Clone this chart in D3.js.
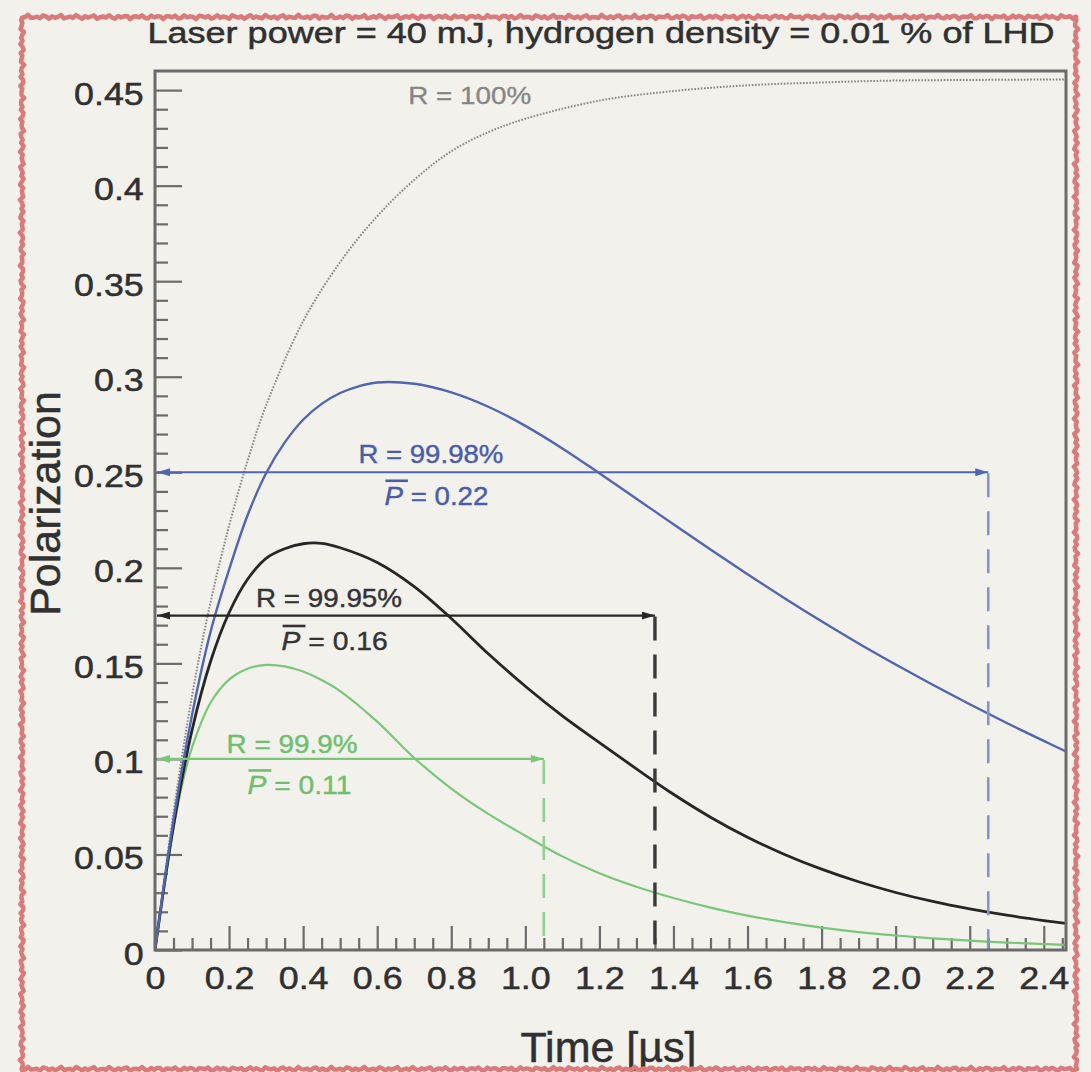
<!DOCTYPE html>
<html>
<head>
<meta charset="utf-8">
<script src="https://cdn.jsdelivr.net/npm/d3@7"></script>
<style>
  html, body { margin: 0; padding: 0; background: #f3f1ec; }
  svg { display: block; }
  text { font-family: "Liberation Sans", Arial, Helvetica, sans-serif; }
</style>
</head>
<body>
<svg id="chart" width="1091" height="1072"></svg>
<script>
// ---- data: polarization vs time [µs] for several reflectivities ----
const tR100  = [0, 0.05, 0.1, 0.15, 0.2, 0.25, 0.3, 0.4, 0.5, 0.6, 0.7, 0.8, 0.9, 1.0, 1.2, 1.4, 1.6, 1.8, 2.0, 2.2, 2.46];
const pR100  = [0, 0.072, 0.133, 0.182, 0.222, 0.256, 0.285, 0.329, 0.36, 0.384, 0.403, 0.418, 0.428, 0.435, 0.4445, 0.4495, 0.4525, 0.454, 0.455, 0.4553, 0.4556];

const tR9998 = [0, 0.05, 0.1, 0.15, 0.2, 0.25, 0.3, 0.35, 0.4, 0.45, 0.5, 0.55, 0.6, 0.7, 0.8, 0.9, 1.0, 1.1, 1.2, 1.3, 1.4, 1.5, 1.6, 1.7, 1.8, 1.9, 2.0, 2.1, 2.2, 2.3, 2.4, 2.46];
const pR9998 = [0, 0.068, 0.123, 0.1665, 0.199, 0.2275, 0.2495, 0.2655, 0.2775, 0.2858, 0.2915, 0.295, 0.297, 0.2963, 0.2918, 0.2843, 0.2743, 0.2625, 0.2495, 0.2362, 0.2228, 0.2096, 0.1967, 0.1841, 0.172, 0.1604, 0.1494, 0.1388, 0.1286, 0.1188, 0.1094, 0.1039];

const tR9995 = [0, 0.05, 0.1, 0.15, 0.2, 0.25, 0.3, 0.35, 0.4, 0.45, 0.5, 0.6, 0.7, 0.8, 0.9, 1.0, 1.1, 1.2, 1.3, 1.4, 1.5, 1.6, 1.7, 1.8, 1.9, 2.0, 2.1, 2.2, 2.3, 2.4, 2.46];
const pR9995 = [0, 0.065, 0.115, 0.151, 0.1765, 0.194, 0.205, 0.210, 0.2126, 0.2128, 0.2105, 0.2028, 0.1902, 0.1735, 0.155, 0.138, 0.1225, 0.1085, 0.0948, 0.0815, 0.0695, 0.059, 0.050, 0.0423, 0.0357, 0.0301, 0.0254, 0.0215, 0.0182, 0.0154, 0.0139];

const tR999  = [0, 0.025, 0.05, 0.075, 0.1, 0.15, 0.2, 0.25, 0.3, 0.35, 0.4, 0.45, 0.5, 0.6, 0.7, 0.8, 0.9, 1.0, 1.1, 1.2, 1.3, 1.4, 1.5, 1.6, 1.7, 1.8, 1.9, 2.0, 2.1, 2.2, 2.3, 2.46];
const pR999  = [0, 0.033, 0.064, 0.088, 0.106, 0.1294, 0.1415, 0.1472, 0.1492, 0.1484, 0.1457, 0.1413, 0.1355, 0.1195, 0.1005, 0.0845, 0.0712, 0.0598, 0.049, 0.0402, 0.0331, 0.0272, 0.0222, 0.018, 0.0146, 0.0117, 0.0094, 0.0076, 0.0061, 0.0049, 0.0039, 0.0027];

// storage-time arrows: level (polarization) and end time for each cavity
const arrowLevels = [0.25, 0.175, 0.1];
const arrowEnds   = [2.25, 1.35, 1.05];
const rLabels     = ["R = 99.98%", "R = 99.95%", "R = 99.9%"];
const pbarValues  = ["0.22", "0.16", "0.11"];

// axis ticks
const xMajor = [0, 0.2, 0.4, 0.6, 0.8, 1.0, 1.2, 1.4, 1.6, 1.8, 2.0, 2.2, 2.4];
const xMinor = d3.range(0, 50).map(i => +(i * 0.05).toFixed(2)).filter(v => Math.round(v * 100) % 20 !== 0);
const yMajor = [0, 0.05, 0.1, 0.15, 0.2, 0.25, 0.3, 0.35, 0.4, 0.45];
const yMinor = d3.range(0, 46).map(i => +(i * 0.01).toFixed(2)).filter(v => Math.round(v * 100) % 5 !== 0);

const titleText = "Laser power = 40 mJ, hydrogen density = 0.01 % of LHD";
const xTitle = "Time [\u00b5s]";
const yTitle = "Polarization";

// ---- styling ----
const colors = {
  blue: "#5166b0", blueText: "#4a5da8", blueDash: "#8595cc",
  black: "#262626", blackText: "#333333", blackDash: "#3a3a3a",
  green: "#79c779", greenText: "#6fbf6f", greenDash: "#8fd28f",
  gray: "#858585", axis: "#6b6b6b", text: "#303030"
};

const svg = d3.select("#chart");
const W = 1091, H = 1072;

svg.append("rect").attr("width", W).attr("height", H).attr("fill", "#f3f1ec");

const x = d3.scaleLinear().domain([0, 2.46]).range([155, 1066]);
const y = d3.scaleLinear().domain([0, 0.46]).range([950, 71]);

const defs = svg.append("defs");
defs.append("clipPath").attr("id", "plotClip")
  .append("rect")
  .attr("x", x(0)).attr("y", y(0.46))
  .attr("width", x(2.46) - x(0)).attr("height", y(0) - y(0.46));

// arrowhead markers
[["blue", colors.blue], ["black", colors.black], ["green", colors.green]].forEach(([k, c]) => {
  defs.append("marker")
    .attr("id", "arrow-" + k)
    .attr("viewBox", "0 0 13 8")
    .attr("refX", 13).attr("refY", 4)
    .attr("markerWidth", 13).attr("markerHeight", 8)
    .attr("markerUnits", "userSpaceOnUse")
    .attr("orient", "auto-start-reverse")
    .append("path").attr("d", "M0,0 L13,4 L0,8 Z").attr("fill", c);
});

// ---- axes (ticks point inward) ----
function fmtX(d) { return d === 0 ? "0" : d.toFixed(1); }
function fmtY(d) { return d === 0 ? "0" : String(+d.toFixed(2)); }

const gxMinor = svg.append("g").attr("transform", `translate(0,${y(0)})`)
  .call(d3.axisBottom(x).tickValues(xMinor).tickSize(-12).tickFormat(""));
const gx = svg.append("g").attr("transform", `translate(0,${y(0)})`)
  .call(d3.axisBottom(x).tickValues(xMajor).tickSize(-24).tickPadding(16).tickFormat(fmtX));

const gyMinor = svg.append("g").attr("transform", `translate(${x(0)},0)`)
  .call(d3.axisLeft(y).tickValues(yMinor).tickSize(-13).tickFormat(""));
const gy = svg.append("g").attr("transform", `translate(${x(0)},0)`)
  .call(d3.axisLeft(y).tickValues(yMajor).tickSize(-27).tickPadding(10).tickFormat(fmtY));

[gxMinor, gx, gyMinor, gy].forEach(g => {
  g.selectAll(".domain").remove();
  g.selectAll(".tick line").attr("stroke", colors.axis).attr("stroke-width", 2.2);
  g.selectAll(".tick text")
    .attr("fill", colors.text)
    .attr("stroke", colors.text).attr("stroke-width", 0.5)
    .attr("font-size", 32)
    .attr("font-family", "Liberation Sans, Arial, sans-serif")
    .attr("transform", "scale(1.12,1)");
});
gy.selectAll(".tick text").attr("dy", "0.44em");

// ---- curves ----
const line = d3.line()
  .x(d => x(d[0])).y(d => y(d[1]))
  .curve(d3.curveCatmullRom.alpha(0.5));

const curves = svg.append("g").attr("clip-path", "url(#plotClip)");

curves.append("path")
  .datum(d3.zip(tR100, pR100))
  .attr("d", line).attr("fill", "none")
  .attr("stroke", colors.gray).attr("stroke-width", 2)
  .attr("stroke-dasharray", "1.6,1.6");

curves.append("path")
  .datum(d3.zip(tR999, pR999))
  .attr("d", line).attr("fill", "none")
  .attr("stroke", colors.green).attr("stroke-width", 2.2);

curves.append("path")
  .datum(d3.zip(tR9995, pR9995))
  .attr("d", line).attr("fill", "none")
  .attr("stroke", colors.black).attr("stroke-width", 2.8);

curves.append("path")
  .datum(d3.zip(tR9998, pR9998))
  .attr("d", line).attr("fill", "none")
  .attr("stroke", colors.blue).attr("stroke-width", 2.4);

// ---- storage-time arrows with dashed drop lines ----
const arrowStyle = [
  { key: "blue",  line: colors.blue,  dash: colors.blueDash,  text: colors.blueText,  lw: 2,   dw: 2.6 },
  { key: "black", line: colors.black, dash: colors.blackDash, text: colors.blackText, lw: 2.4, dw: 3.4 },
  { key: "green", line: colors.green, dash: colors.greenDash, text: colors.greenText, lw: 2.4, dw: 2.6 }
];

const ann = svg.append("g");
arrowLevels.forEach((lvl, i) => {
  const s = arrowStyle[i];
  ann.append("line")
    .attr("x1", x(arrowEnds[i])).attr("x2", x(arrowEnds[i]))
    .attr("y1", y(lvl) + 1).attr("y2", y(0))
    .attr("stroke", s.dash).attr("stroke-width", s.dw)
    .attr("stroke-dasharray", "24,14");
  ann.append("line")
    .attr("x1", x(0) + 2).attr("x2", x(arrowEnds[i]))
    .attr("y1", y(lvl)).attr("y2", y(lvl))
    .attr("stroke", s.line).attr("stroke-width", s.lw)
    .attr("marker-start", `url(#arrow-${s.key})`)
    .attr("marker-end", `url(#arrow-${s.key})`);
});

// ---- annotation text ----
// label anchors (time, polarization) and rendered widths
const rLabelPos   = [[0.745, 0.255], [0.47, 0.1795], [0.37, 0.1033]];
const rLabelW     = [145, 146, 131];
const pLabelPos   = [[0.76, 0.233], [0.485, 0.157], [0.39, 0.0814]];
const pLabelW     = [104, 106, 104];

arrowLevels.forEach((lvl, i) => {
  const s = arrowStyle[i];
  ann.append("text")
    .attr("x", x(rLabelPos[i][0])).attr("y", y(rLabelPos[i][1]))
    .attr("text-anchor", "middle")
    .attr("font-size", 25)
    .attr("fill", s.text).attr("stroke", s.text).attr("stroke-width", 0.4)
    .attr("textLength", rLabelW[i]).attr("lengthAdjust", "spacingAndGlyphs")
    .text(rLabels[i]);

  const pt = ann.append("text")
    .attr("x", x(pLabelPos[i][0])).attr("y", y(pLabelPos[i][1]))
    .attr("text-anchor", "middle")
    .attr("font-size", 25)
    .attr("fill", s.text).attr("stroke", s.text).attr("stroke-width", 0.4)
    .attr("textLength", pLabelW[i]).attr("lengthAdjust", "spacingAndGlyphs");
  pt.append("tspan").attr("font-style", "italic").text("P");
  pt.append("tspan").text(" = " + pbarValues[i]);

  // bar over P (mean polarization)
  const ext = pt.node().getExtentOfChar(0);
  const by = y(pLabelPos[i][1]) - 24;
  ann.append("line")
    .attr("x1", ext.x + 1).attr("x2", ext.x + ext.width + 5)
    .attr("y1", by).attr("y2", by)
    .attr("stroke", s.text).attr("stroke-width", 2.6);
});

ann.append("text")
  .attr("x", x(0.85)).attr("y", y(0.4425))
  .attr("text-anchor", "middle")
  .attr("font-size", 24)
  .attr("fill", colors.gray).attr("stroke", colors.gray).attr("stroke-width", 0.3)
  .attr("textLength", 123).attr("lengthAdjust", "spacingAndGlyphs")
  .text("R = 100%");

// ---- frame ----
svg.append("rect")
  .attr("x", x(0)).attr("y", y(0.46))
  .attr("width", x(2.46) - x(0)).attr("height", y(0) - y(0.46))
  .attr("fill", "none").attr("stroke", colors.axis).attr("stroke-width", 3);

// ---- titles ----
svg.append("text")
  .attr("x", 601).attr("y", 43)
  .attr("text-anchor", "middle")
  .attr("font-size", 30).attr("fill", colors.text)
  .attr("stroke", colors.text).attr("stroke-width", 0.5)
  .attr("textLength", 907).attr("lengthAdjust", "spacingAndGlyphs")
  .text(titleText);

svg.append("text")
  .attr("x", (x(0) + x(2.46)) / 2 - 2).attr("y", 1062)
  .attr("text-anchor", "middle")
  .attr("font-size", 43).attr("fill", colors.text)
  .attr("stroke", colors.text).attr("stroke-width", 0.5)
  .text(xTitle);

svg.append("text")
  .attr("transform", `translate(60,${(y(0) + y(0.46)) / 2 - 7}) rotate(-90)`)
  .attr("text-anchor", "middle")
  .attr("font-size", 43).attr("fill", colors.text)
  .attr("stroke", colors.text).attr("stroke-width", 0.5)
  .text(yTitle);

// ---- hand-drawn style red picture border ----
function roughEdge(x0, y0, x1, y1, phase) {
  const len = Math.hypot(x1 - x0, y1 - y0);
  const n = Math.round(len / 3);
  const nx = -(y1 - y0) / len, ny = (x1 - x0) / len;
  const pts = [];
  for (let i = 0; i <= n; i++) {
    const t = i / n;
    const o = 1.4 * Math.sin(i * 2.3 + phase) + 0.8 * Math.sin(i * 5.1 + phase * 2);
    pts.push([x0 + (x1 - x0) * t + nx * o, y0 + (y1 - y0) * t + ny * o]);
  }
  return pts;
}
const bL = 22, bT = 17, bR = 1076, bB = 1069;
const borderPts = [].concat(
  roughEdge(bL, bT, bR, bT, 0.3),
  roughEdge(bR, bT, bR, bB, 1.7),
  roughEdge(bR, bB, bL, bB, 2.9),
  roughEdge(bL, bB, bL, bT, 4.1)
);
svg.append("path")
  .attr("d", d3.line()(borderPts) + "Z")
  .attr("fill", "none")
  .attr("stroke", "#d97b7b")
  .attr("stroke-width", 4.5)
  .attr("stroke-linejoin", "round");
</script>
</body>
</html>
